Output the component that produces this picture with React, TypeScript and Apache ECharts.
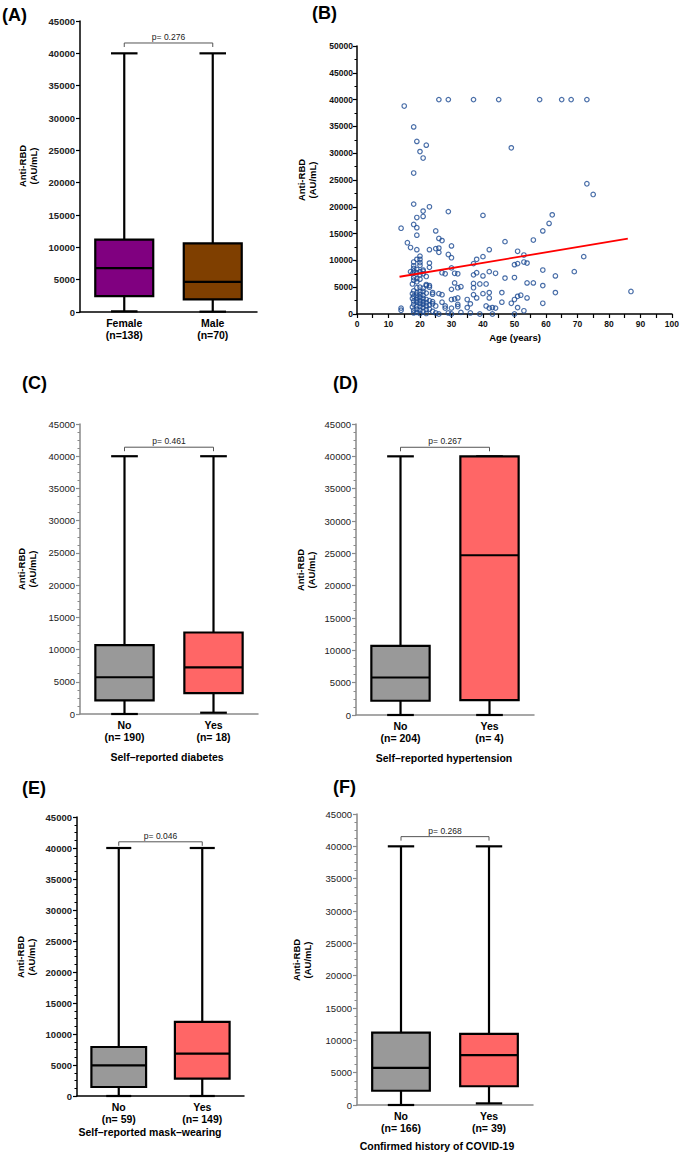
import React, { useEffect, useRef } from "react";
import * as echarts from "echarts";

const FONT = "'Liberation Sans', Arial, Helvetica, sans-serif";

// ---------- Panel A: sex ----------
const sexCategories = ["Female\n(n=138)", "Male\n(n=70)"];
// [min, Q1, median, Q3, max]
const sexStats = [
  [100, 2450, 6800, 11200, 40000],
  [50, 1950, 4650, 10600, 40000],
];
const sexColors = ["#800080", "#7f3f00"];
const sexP = "p= 0.276";
const sexBracket = 41600;

// ---------- Panel C: diabetes ----------
const diabetesCategories = ["No\n(n= 190)", "Yes\n(n= 18)"];
const diabetesStats = [
  [0, 2100, 5700, 10700, 40000],
  [200, 3250, 7250, 12650, 40000],
];
const diabetesP = "p= 0.461";
const diabetesBracket = 41400;

// ---------- Panel D: hypertension ----------
const hypertensionCategories = ["No\n(n= 204)", "Yes\n(n= 4)"];
const hypertensionStats = [
  [0, 2200, 5800, 10700, 40000],
  [0, 2300, 24700, 40000, 40000],
];
const hypertensionP = "p= 0.267";
const hypertensionBracket = 41400;

// ---------- Panel E: mask ----------
const maskCategories = ["No\n(n= 59)", "Yes\n(n= 149)"];
const maskStats = [
  [0, 1450, 4950, 7900, 40000],
  [0, 2800, 6850, 11950, 40000],
];
const maskP = "p= 0.046";
const maskBracket = 41000;

// ---------- Panel F: covid ----------
const covidCategories = ["No\n(n= 166)", "Yes\n(n= 39)"];
const covidStats = [
  [0, 2200, 5750, 11200, 40000],
  [250, 2900, 7700, 11000, 40000],
];
const covidP = "p= 0.268";
const covidBracket = 41500;

const noYesColors = ["#999999", "#ff6666"];

// ---------- Panel B: age scatter ----------
const ageVsRbd = [
  [26, 40000], [29, 40000], [37, 40000], [45, 40000], [58, 40000], [65, 40000], [68, 40000], [73, 40000],
  [15, 38800], [18, 34900], [19, 32200], [22, 31500], [20, 30300], [21, 29100], [18, 26300], [49, 31000],
  [73, 24300], [75, 22300], [18, 20500], [23, 20000], [21, 19200], [29, 19100], [19, 18000], [21, 18200],
  [40, 18400], [62, 18500], [61, 16900], [14, 16000], [18, 16700], [19, 16100], [25, 15500], [59, 15500],
  [19, 14700], [26, 14100], [27, 13700], [16, 13300], [47, 13500], [56, 13800], [17, 12400], [25, 12200],
  [26, 12300], [19, 12000], [23, 12000], [42, 12000], [26, 11500], [30, 12700], [29, 11100], [51, 11700],
  [53, 11000], [72, 10700], [20, 10800], [19, 10200], [20, 10200], [30, 10500], [38, 10200], [40, 10700],
  [37, 9400], [50, 9200], [51, 9400], [53, 9700], [54, 9500], [23, 9500], [18, 9700], [20, 9100],
  [23, 8700], [30, 8600], [21, 8200], [59, 8200], [69, 7900], [17, 7900], [42, 7900], [44, 7600],
  [27, 7700], [28, 7500], [32, 7500], [31, 7600], [38, 7700], [37, 7300], [22, 7000], [40, 7100],
  [63, 7100], [47, 6700], [50, 6800], [31, 5800], [33, 5100], [32, 4900], [37, 5700], [39, 5600],
  [41, 5600], [54, 5800], [56, 5800], [59, 5300], [22, 5500], [23, 5300], [30, 4600], [37, 4900],
  [87, 4200], [63, 4000], [46, 4000], [24, 4000], [26, 3800], [27, 3600], [37, 3600], [40, 3800],
  [42, 4000], [38, 3000], [42, 3000], [51, 3300], [52, 3500], [54, 3000], [50, 2700], [49, 2000],
  [59, 2000], [31, 2800], [32, 3000], [30, 2700], [35, 2700], [36, 1900], [32, 1800], [46, 2200],
  [24, 2300], [27, 2200], [25, 1500], [28, 1500], [28, 1100], [30, 1100], [32, 1400], [35, 1200],
  [41, 1500], [43, 1200], [44, 1100], [42, 1100], [51, 1200], [53, 600], [14, 1100], [14, 700],
  [24, 500], [33, 300], [36, 200], [39, 0], [43, 0], [50, 0], [25, 200], [26, 0], [29, 200], [30, 0],
  [18, 9000], [18, 8500], [18, 8000], [17.6, 7500], [18, 6800], [18, 6300], [17.6, 5600], [18, 4300],
  [17.6, 3800], [18, 3300], [17.6, 2900], [18, 2400], [18, 1800], [17.6, 1300], [18, 700], [18, 200],
  [19, 8300], [19, 7700], [19, 6600], [19, 6000], [19, 4900], [19, 4000], [19, 3500], [19, 3000],
  [19, 2600], [19, 2200], [19, 1500], [19, 900], [19, 300],
  [20, 9600], [20, 7900], [20, 7300], [20, 6500], [20, 5000], [20, 4100], [20, 3600], [20, 3100],
  [20, 2500], [20, 2000], [20, 1400], [20, 700], [20, 100],
  [21, 8000], [21, 7500], [21, 4800], [21, 4200], [21, 3500], [21, 2900], [21, 2300], [21, 1800],
  [21, 1200], [21, 500],
  [22, 5300], [22, 3900], [22, 2700], [22, 2100], [22, 1500], [22, 800], [22, 100],
  [23, 5000], [23, 2500], [23, 1700], [23, 900], [24, 3700], [24, 1900],
];
const fitLine = [
  [13.5, 6950],
  [86, 14050],
];

// ---------- layout (pixels) ----------
const grids = [
  { left: 80, top: 21, width: 177, height: 291 }, // A
  { left: 357, top: 46, width: 318, height: 268 }, // B
  { left: 80, top: 424, width: 178, height: 290 }, // C
  { left: 356, top: 424, width: 178, height: 291 }, // D
  { left: 77, top: 817, width: 167, height: 279 }, // E
  { left: 357, top: 814, width: 176, height: 291 }, // F
];

const GRAY_AXIS = "#8a8a8a";
const plain = (v: number) => String(v);

const boxPanels = [
  { grid: 0, cats: sexCategories, stats: sexStats, colors: sexColors, p: sexP, bracket: sexBracket, axisColor: "#000", bold: true, minor: false },
  { grid: 2, cats: diabetesCategories, stats: diabetesStats, colors: noYesColors, p: diabetesP, bracket: diabetesBracket, axisColor: GRAY_AXIS, bold: false, minor: true },
  { grid: 3, cats: hypertensionCategories, stats: hypertensionStats, colors: noYesColors, p: hypertensionP, bracket: hypertensionBracket, axisColor: GRAY_AXIS, bold: false, minor: true },
  { grid: 4, cats: maskCategories, stats: maskStats, colors: noYesColors, p: maskP, bracket: maskBracket, axisColor: "#000", bold: true, minor: true },
  { grid: 5, cats: covidCategories, stats: covidStats, colors: noYesColors, p: covidP, bracket: covidBracket, axisColor: GRAY_AXIS, bold: false, minor: true },
];

function makeBoxRender(colors: string[]) {
  return (params: any, api: any) => {
    const x = api.value(0);
    const vMin = api.value(1);
    const vQ1 = api.value(2);
    const vMed = api.value(3);
    const vQ3 = api.value(4);
    const vMax = api.value(5);
    const band = api.size([1, 0])[0];
    const boxW = band * 0.655;
    const capW = band * 0.3;
    const pMin = api.coord([x, vMin]);
    const pQ1 = api.coord([x, vQ1]);
    const pMed = api.coord([x, vMed]);
    const pQ3 = api.coord([x, vQ3]);
    const pMax = api.coord([x, vMax]);
    const cx = pMin[0];
    const lw = 2.2;
    const ln = (x1: number, y1: number, x2: number, y2: number) => ({
      type: "line",
      shape: { x1, y1, x2, y2 },
      style: { stroke: "#000", lineWidth: lw },
    });
    return {
      type: "group",
      children: [
        ln(cx, pMax[1], cx, pQ3[1]),
        ln(cx, pQ1[1], cx, pMin[1]),
        ln(cx - capW / 2, pMax[1], cx + capW / 2, pMax[1]),
        ln(cx - capW / 2, pMin[1], cx + capW / 2, pMin[1]),
        {
          type: "rect",
          shape: { x: cx - boxW / 2, y: pQ3[1], width: boxW, height: pQ1[1] - pQ3[1] },
          style: { fill: colors[params.dataIndex], stroke: "#000", lineWidth: lw },
        },
        ln(cx - boxW / 2, pMed[1], cx + boxW / 2, pMed[1]),
      ],
    };
  };
}

function makeBracketRender(text: string) {
  return (params: any, api: any) => {
    const v = api.value(1);
    const p0 = api.coord([0, v]);
    const p1 = api.coord([1, v]);
    const leg = 4;
    const st = { stroke: "#555", lineWidth: 1 };
    return {
      type: "group",
      children: [
        { type: "line", shape: { x1: p0[0], y1: p0[1], x2: p1[0], y2: p1[1] }, style: st },
        { type: "line", shape: { x1: p0[0], y1: p0[1], x2: p0[0], y2: p0[1] + leg }, style: st },
        { type: "line", shape: { x1: p1[0], y1: p1[1], x2: p1[0], y2: p1[1] + leg }, style: st },
        {
          type: "text",
          x: (p0[0] + p1[0]) / 2,
          y: p0[1] - 1.5,
          style: {
            text,
            fontSize: 8.5,
            fontFamily: FONT,
            fill: "#222",
            align: "center",
            verticalAlign: "bottom",
          },
        },
      ],
    };
  };
}

function buildOption() {
  const xAxis: any[] = new Array(6);
  const yAxis: any[] = new Array(6);
  const series: any[] = [];

  boxPanels.forEach((bp) => {
    xAxis[bp.grid] = {
      gridIndex: bp.grid,
      type: "category",
      data: bp.cats,
      boundaryGap: true,
      axisLine: { show: true, lineStyle: { color: bp.axisColor, width: 1.5 } },
      axisTick: { show: false },
      axisLabel: {
        fontFamily: FONT,
        fontSize: 10.5,
        fontWeight: "bold",
        color: "#000",
        margin: 5,
        lineHeight: 12,
        interval: 0,
      },
      splitLine: { show: false },
    };
    yAxis[bp.grid] = {
      gridIndex: bp.grid,
      type: "value",
      min: 0,
      max: 45000,
      interval: 5000,
      axisLine: { show: true, lineStyle: { color: bp.axisColor, width: 1.5 } },
      axisTick: { show: true, length: 4, lineStyle: { color: bp.axisColor, width: 1.2 } },
      minorTick: { show: bp.minor, splitNumber: 4, length: 2.5, lineStyle: { color: bp.axisColor, width: 1 } },
      axisLabel: {
        fontFamily: FONT,
        fontSize: 9.5,
        fontWeight: bp.bold ? "bold" : "normal",
        color: "#222",
        margin: 5,
        formatter: plain,
      },
      splitLine: { show: false },
    };
    series.push({
      type: "custom",
      xAxisIndex: bp.grid,
      yAxisIndex: bp.grid,
      renderItem: makeBoxRender(bp.colors),
      encode: { x: 0, y: [1, 2, 3, 4, 5] },
      data: bp.stats.map((s, i) => [i, ...s]),
      z: 3,
    });
    series.push({
      type: "custom",
      xAxisIndex: bp.grid,
      yAxisIndex: bp.grid,
      renderItem: makeBracketRender(bp.p),
      encode: { x: 0, y: 1 },
      data: [[0, bp.bracket]],
      z: 4,
    });
  });

  // Panel B
  xAxis[1] = {
    gridIndex: 1,
    type: "value",
    min: 0,
    max: 100,
    interval: 10,
    axisLine: { show: true, lineStyle: { color: "#000", width: 1.5 } },
    axisTick: { show: true, length: 4, lineStyle: { color: "#000", width: 1.2 } },
    minorTick: { show: true, splitNumber: 2, length: 4, lineStyle: { color: "#000", width: 1.2 } },
    axisLabel: { fontFamily: FONT, fontSize: 8.5, fontWeight: "bold", color: "#111", margin: 5, formatter: plain },
    splitLine: { show: false },
  };
  yAxis[1] = {
    gridIndex: 1,
    type: "value",
    min: 0,
    max: 50000,
    interval: 5000,
    axisLine: { show: true, lineStyle: { color: "#000", width: 1.5 } },
    axisTick: { show: true, length: 4, lineStyle: { color: "#000", width: 1.2 } },
    minorTick: { show: true, splitNumber: 2, length: 2.5, lineStyle: { color: "#000", width: 1 } },
    axisLabel: { fontFamily: FONT, fontSize: 8.5, fontWeight: "bold", color: "#111", margin: 4, formatter: plain },
    splitLine: { show: false },
  };
  series.push({
    type: "scatter",
    xAxisIndex: 1,
    yAxisIndex: 1,
    data: ageVsRbd,
    symbol: "circle",
    symbolSize: 4.5,
    itemStyle: { color: "rgba(255,255,255,0)", borderColor: "#1c4a92", borderWidth: 1.2 },
    z: 3,
  });
  series.push({
    type: "line",
    xAxisIndex: 1,
    yAxisIndex: 1,
    data: fitLine,
    symbol: "none",
    lineStyle: { color: "#ff0000", width: 1.8 },
    z: 4,
  });

  const titleFont = { fontFamily: FONT, fontWeight: "bold", fill: "#000" };
  const panelLabel = (text: string, x: number, y: number) => ({
    type: "text",
    x,
    y,
    style: { text, fontSize: 18, ...titleFont, align: "left", verticalAlign: "middle" },
  });
  const yTitle = (x: number, y: number) => ({
    type: "text",
    x,
    y,
    rotation: Math.PI / 2,
    style: {
      text: "Anti-RBD\n(AU/mL)",
      fontSize: 9.5,
      lineHeight: 11,
      ...titleFont,
      align: "center",
      verticalAlign: "middle",
    },
  });
  const xTitle = (text: string, x: number, y: number, size = 10.5) => ({
    type: "text",
    x,
    y,
    style: { text, fontSize: size, ...titleFont, align: "center", verticalAlign: "middle" },
  });

  const graphic = [
    panelLabel("(A)", 2, 15),
    panelLabel("(B)", 312, 13),
    panelLabel("(C)", 22, 383),
    panelLabel("(D)", 333, 383),
    panelLabel("(E)", 22, 788),
    panelLabel("(F)", 333, 787),
    yTitle(28, 166),
    yTitle(307, 180),
    yTitle(27, 569),
    yTitle(306, 570),
    yTitle(26, 957),
    yTitle(302, 960),
    xTitle("Age (years)", 515, 337, 9.5),
    xTitle("Self–reported diabetes", 167, 757),
    xTitle("Self–reported hypertension", 444, 758),
    xTitle("Self–reported mask–wearing", 150, 1132),
    xTitle("Confirmed history of COVID-19", 437, 1146),
  ];

  return {
    animation: false,
    backgroundColor: "#ffffff",
    textStyle: { fontFamily: FONT },
    grid: grids.map((g) => ({ ...g, containLabel: false })),
    xAxis,
    yAxis,
    series,
    graphic,
  };
}

export default function App() {
  const ref = useRef<HTMLDivElement>(null);
  useEffect(() => {
    document.body.style.margin = "0";
    if (!ref.current) return;
    const chart = echarts.init(ref.current, undefined, { renderer: "svg" });
    chart.setOption(buildOption() as any);
    return () => {
      chart.dispose();
    };
  }, []);
  return <div ref={ref} style={{ width: 682, height: 1158, background: "#fff" }} />;
}
